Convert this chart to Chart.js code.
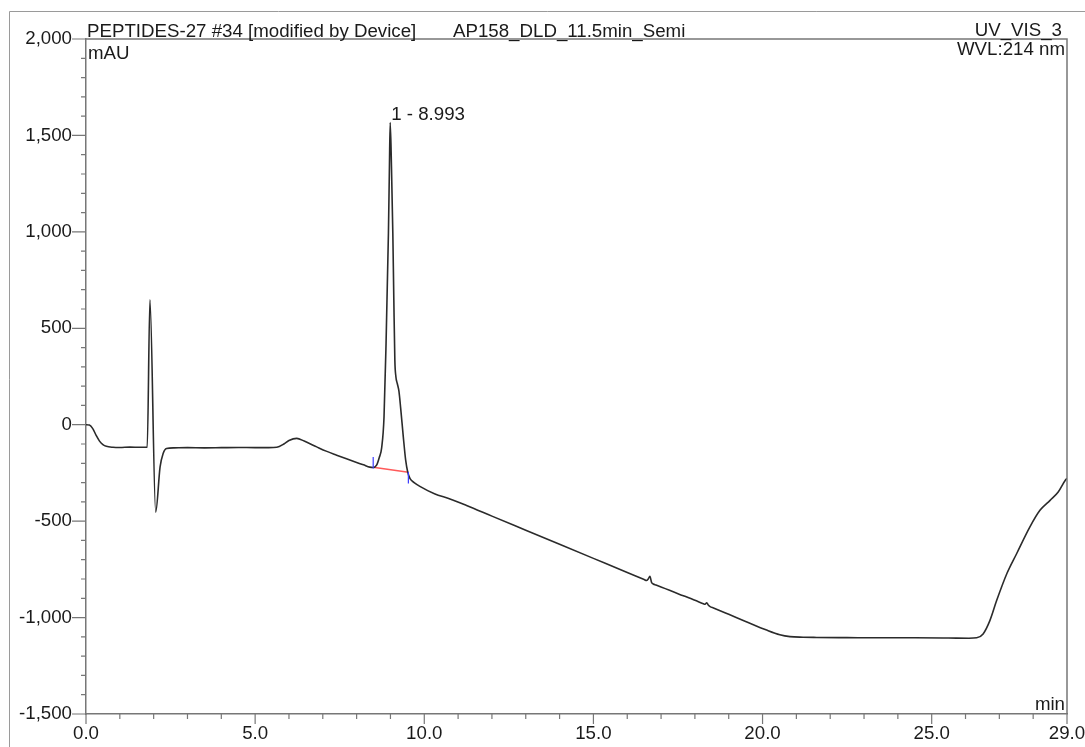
<!DOCTYPE html>
<html>
<head>
<meta charset="utf-8">
<title>PEPTIDES-27 #34</title>
<script src="https://cdn.jsdelivr.net/npm/chart.js@4"></script>
<style>
  html, body { margin: 0; padding: 0; background: #fff; }
  canvas { display: block; }
</style>
</head>
<body>
<canvas id="chart" width="1085" height="747"></canvas>
<script>
// retention time (min) and signal (mAU)
const times = [0.0, 0.1, 0.2, 0.3, 0.4, 0.5, 0.6, 0.8, 1.0, 1.3, 1.6, 1.81,
  1.89, 2.06, 2.19, 2.28, 2.38, 2.6, 3.0, 3.5, 4.0, 4.5, 5.0, 5.4, 5.64,
  5.85, 6.0, 6.23, 6.45, 6.82, 7.1, 7.41, 7.7, 8.0, 8.2, 8.39, 8.49, 8.59,
  8.67, 8.74, 8.81, 8.87, 8.94, 8.97, 8.993, 9.03, 9.07, 9.10, 9.13, 9.16,
  9.20, 9.25, 9.30, 9.38, 9.45, 9.51, 9.58, 9.70, 9.87, 10.3, 10.76, 11.25,
  12.0, 13.0, 14.0, 15.0, 16.0, 16.5, 16.57, 16.62, 16.67, 16.72, 16.77, 16.85,
  17.5, 18.0, 18.25, 18.30, 18.35, 18.40, 18.45, 18.55, 19.0, 19.5, 20.12,
  20.51, 20.81, 21.2, 21.6, 22.5, 23.5, 24.5, 25.5, 26.1, 26.33, 26.52, 26.72,
  26.92, 27.22, 27.51, 27.9, 28.2, 28.5, 28.74, 28.96, 29.0];
const signal = [0, -2, -20, -55, -85, -103, -112, -117, -118, -116, -117, -117,
  648, -453, -219, -149, -123, -120, -119, -120, -119, -118, -119, -119, -117,
  -100, -82, -71, -85, -115, -137, -158, -177, -196, -208, -220, -222, -210,
  -170, -120, 40, 420, 990, 1340, 1567, 1340, 996, 648, 336, 250,
  215, 175, 90, -63, -184, -245, -280, -300, -320, -358, -385, -419,
  -474, -547, -620, -693, -766, -803, -808, -800, -786, -818, -826, -831,
  -876, -910, -928, -931, -923, -936, -943, -950, -983, -1020, -1065,
  -1089, -1099, -1102, -1103, -1104, -1105, -1105, -1106, -1107, -1105, -1085, -1016,
  -912, -773, -669, -531, -444, -392, -349, -285, -278];

// peak 1 integration
const peakName = '1';
const peakTime = 8.993;
const peakHeight = 1567;
const baseTimes = [8.49, 9.53];
const baseValues = [-220, -247];
const startMark = [-167, -227];
const endMark = [-245, -305];

// axis labels
const xLabelValues = [0, 5, 10, 15, 20, 25, 29];
const xTickLabels = ['0.0', '5.0', '10.0', '15.0', '20.0', '25.0', '29.0'];
const yLabelValues = [-1500, -1000, -500, 0, 500, 1000, 1500, 2000];
const yTickLabels = ['-1,500', '-1,000', '-500', '0', '500', '1,000', '1,500', '2,000'];

const fontFamily = '"Liberation Sans", Arial, sans-serif';
const fontSize = 18.7;
const textColor = '#1a1a1a';
const axisColor = '#777777';

const trace = times.map((t, i) => ({ x: t, y: signal[i] }));
const baseline = baseTimes.map((t, i) => ({ x: t, y: baseValues[i] }));

// frame, tick marks and header texts
const decorations = {
    id: 'decorations',
    beforeDraw(chart) {
        const ctx = chart.ctx;
        ctx.save();
        ctx.fillStyle = '#fff';
        ctx.fillRect(0, 0, chart.width, chart.height);
        ctx.restore();
    },
    afterDraw(chart) {
        const ctx = chart.ctx;
        const area = chart.chartArea;
        const xs = chart.scales.x;
        const ys = chart.scales.y;
        ctx.save();

        // outer frame
        ctx.strokeStyle = '#9a9a9a';
        ctx.lineWidth = 1;
        ctx.beginPath();
        ctx.moveTo(9.5, chart.height);
        ctx.lineTo(9.5, 11.5);
        ctx.lineTo(chart.width, 11.5);
        ctx.stroke();

        // top and right border of the plot
        ctx.strokeStyle = axisColor;
        ctx.lineWidth = 1.5;
        ctx.beginPath();
        ctx.moveTo(area.left, area.top);
        ctx.lineTo(area.right, area.top);
        ctx.lineTo(area.right, area.bottom);
        ctx.stroke();

        // tick marks
        ctx.lineWidth = 1.2;
        ctx.beginPath();
        xs.ticks.forEach(t => {
            const px = xs.getPixelForValue(t.value);
            const len = xLabelValues.includes(t.value) ? 10 : 5;
            ctx.moveTo(px, area.bottom);
            ctx.lineTo(px, area.bottom + len);
        });
        ys.ticks.forEach(t => {
            const py = ys.getPixelForValue(t.value);
            const len = yLabelValues.includes(t.value) ? 14 : 5;
            ctx.moveTo(area.left, py);
            ctx.lineTo(area.left - len, py);
        });
        ctx.stroke();

        // integration marks
        ctx.strokeStyle = '#3c3cff';
        ctx.lineWidth = 1.2;
        ctx.beginPath();
        ctx.moveTo(xs.getPixelForValue(baseTimes[0]), ys.getPixelForValue(startMark[0]));
        ctx.lineTo(xs.getPixelForValue(baseTimes[0]), ys.getPixelForValue(startMark[1]));
        ctx.moveTo(xs.getPixelForValue(baseTimes[1]), ys.getPixelForValue(endMark[0]));
        ctx.lineTo(xs.getPixelForValue(baseTimes[1]), ys.getPixelForValue(endMark[1]));
        ctx.stroke();

        // texts
        ctx.fillStyle = textColor;
        ctx.font = fontSize + 'px ' + fontFamily;
        ctx.textBaseline = 'alphabetic';
        ctx.textAlign = 'left';
        ctx.fillText('PEPTIDES-27 #34 [modified by Device]', 87, 37);
        ctx.fillText('AP158_DLD_11.5min_Semi', 453, 37);
        ctx.fillText('mAU', 88, 59);
        ctx.fillText(peakName + ' - ' + peakTime.toFixed(3),
            xs.getPixelForValue(peakTime) + 1, ys.getPixelForValue(peakHeight) - 3);
        ctx.textAlign = 'right';
        ctx.fillText('UV_VIS_3', 1062, 36);
        ctx.fillText('WVL:214 nm', area.right - 2, 55);
        ctx.fillText('min', area.right - 2, 710);
        ctx.restore();
    }
};

new Chart(document.getElementById('chart'), {
    type: 'line',
    data: {
        datasets: [
            {
                data: trace,
                borderColor: '#2b2b2b',
                borderWidth: 1.6,
                pointRadius: 0,
                cubicInterpolationMode: 'monotone'
            },
            {
                data: baseline,
                borderColor: '#ff5a5a',
                borderWidth: 1.5,
                pointRadius: 0
            }
        ]
    },
    options: {
        responsive: false,
        animation: false,
        events: [],
        layout: { padding: { left: 0, top: 39, right: 18, bottom: 0 } },
        plugins: { legend: { display: false }, tooltip: { enabled: false } },
        scales: {
            x: {
                type: 'linear',
                min: 0,
                max: 29,
                grid: { display: false, drawTicks: false },
                border: { display: true, color: axisColor, width: 1.5 },
                ticks: {
                    stepSize: 1,
                    maxTicksLimit: 100,
                    autoSkip: false,
                    maxRotation: 0,
                    padding: 9,
                    color: textColor,
                    font: { family: fontFamily, size: fontSize },
                    callback: v => {
                        const i = xLabelValues.indexOf(v);
                        return i >= 0 ? xTickLabels[i] : '';
                    }
                },
                afterFit: s => {
                    s.height = 33;
                    s.paddingLeft = 0;
                    s.paddingRight = 0;
                }
            },
            y: {
                min: -1500,
                max: 2000,
                grid: { display: false, drawTicks: false },
                border: { display: true, color: axisColor, width: 1.5 },
                ticks: {
                    stepSize: 100,
                    maxTicksLimit: 100,
                    autoSkip: false,
                    padding: 14,
                    color: textColor,
                    font: { family: fontFamily, size: fontSize },
                    callback: v => {
                        const i = yLabelValues.indexOf(v);
                        return i >= 0 ? yTickLabels[i] : '';
                    }
                },
                afterFit: s => { s.width = 86; }
            }
        }
    },
    plugins: [decorations]
});
</script>
</body>
</html>
